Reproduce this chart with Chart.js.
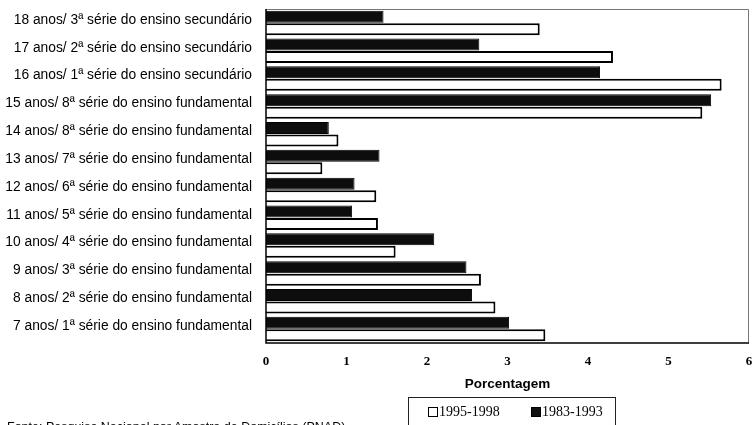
<!DOCTYPE html>
<html>
<head>
<meta charset="utf-8">
<script src="https://cdn.jsdelivr.net/npm/chart.js@4/dist/chart.umd.min.js"></script>
<style>
  html, body { margin: 0; padding: 0; background: #fff; }
  #wrap { position: relative; width: 752px; height: 425px; overflow: hidden; }
  #legend {
    position: absolute; left: 408px; top: 397px; width: 208px; height: 40px;
    border: 1px solid #222; box-sizing: border-box;
    font-family: "Liberation Serif", serif; font-size: 14px; color: #000;
  }
  #legend span { position: absolute; top: 6px; white-space: nowrap; }
  #legend i { display: inline-block; width: 8px; height: 8px; border: 1px solid #000; margin-right: 1px; vertical-align: -1px; }
  #source {
    position: absolute; left: 7px; top: 420px;
    font-family: "Liberation Sans", Arial, sans-serif; font-size: 12.5px; color: #000; white-space: nowrap;
  }
</style>
</head>
<body>
<div id="wrap">
  <canvas id="chart" width="752" height="425"></canvas>
  <div id="legend">
    <span style="left:19px;"><i style="background:#fff;"></i>1995-1998</span>
    <span style="left:122px;"><i style="background:#111;"></i>1983-1993</span>
  </div>
  <div id="source">Fonte: Pesquisa Nacional por Amostra de Domicílios (PNAD)</div>
</div>
<script>
// categories, top to bottom
const labels = [
  '18 anos/ 3ª série do ensino secundário',
  '17 anos/ 2ª série do ensino secundário',
  '16 anos/ 1ª série do ensino secundário',
  '15 anos/ 8ª série do ensino fundamental',
  '14 anos/ 8ª série do ensino fundamental',
  '13 anos/ 7ª série do ensino fundamental',
  '12 anos/ 6ª série do ensino fundamental',
  '11 anos/ 5ª série do ensino fundamental',
  '10 anos/ 4ª série do ensino fundamental',
  '9 anos/ 3ª série do ensino fundamental',
  '8 anos/ 2ª série do ensino fundamental',
  '7 anos/ 1ª série do ensino fundamental',
];
const val8393 = [1.46, 2.65, 4.15, 5.53, 0.78, 1.41, 1.10, 1.07, 2.09, 2.49, 2.56, 3.02];
const val9598 = [3.40, 4.31, 5.66, 5.42, 0.90, 0.70, 1.37, 1.39, 1.61, 2.67, 2.85, 3.47];
const xTicks  = [0, 1, 2, 3, 4, 5, 6];

// box around the plot area
const frame = {
  id: 'frame',
  afterDraw(chart) {
    const { ctx, chartArea: a } = chart;
    ctx.save();
    ctx.strokeStyle = '#777';
    ctx.lineWidth = 1;
    ctx.beginPath();
    ctx.moveTo(a.left, a.top + 0.5);
    ctx.lineTo(a.right - 0.5, a.top + 0.5);
    ctx.lineTo(a.right - 0.5, a.bottom);
    ctx.stroke();
    ctx.strokeStyle = '#000';
    ctx.lineWidth = 1.5;
    ctx.beginPath();
    ctx.moveTo(a.left, a.top);
    ctx.lineTo(a.left, a.bottom);
    ctx.lineTo(a.right, a.bottom);
    ctx.stroke();
    ctx.restore();
  }
};

new Chart(document.getElementById('chart'), {
  type: 'bar',
  data: {
    labels: labels,
    datasets: [
      { label: '1983-1993', data: val8393, backgroundColor: '#0d0d0d', borderColor: '#000', borderWidth: 1,
        categoryPercentage: 0.9, barPercentage: 0.96 },
      { label: '1995-1998', data: val9598, backgroundColor: '#fff', borderColor: '#000', borderWidth: 2,
        categoryPercentage: 0.9, barPercentage: 0.96 },
    ],
  },
  options: {
    indexAxis: 'y',
    responsive: false,
    animation: false,
    layout: { padding: { top: 9, right: 0, bottom: 0, left: 0 } },
    plugins: { legend: { display: false }, tooltip: { enabled: false } },
    scales: {
      x: {
        min: 0, max: 6,
        afterBuildTicks: s => { s.ticks = xTicks.map(v => ({ value: v })); },
        afterFit: s => { s.height = 82; s.paddingLeft = 0; s.paddingRight = 3; },
        grid: { display: false },
        border: { display: false },
        ticks: { color: '#000', padding: 3, font: { family: 'Liberation Serif', size: 13, weight: 'bold' } },
        title: {
          display: true, text: 'Porcentagem', color: '#000',
          font: { family: 'Liberation Sans', size: 13.5, weight: 'bold' },
          padding: { top: 0, bottom: 33 },
        },
      },
      y: {
        afterFit: s => { s.width = 266; s.paddingTop = 0; s.paddingBottom = 0; },
        grid: { display: false },
        border: { display: false },
        ticks: { color: '#000', padding: 6, labelOffset: -3, font: { family: 'Liberation Sans', size: 13.8 } },
      },
    },
  },
  plugins: [frame],
});
</script>
</body>
</html>
